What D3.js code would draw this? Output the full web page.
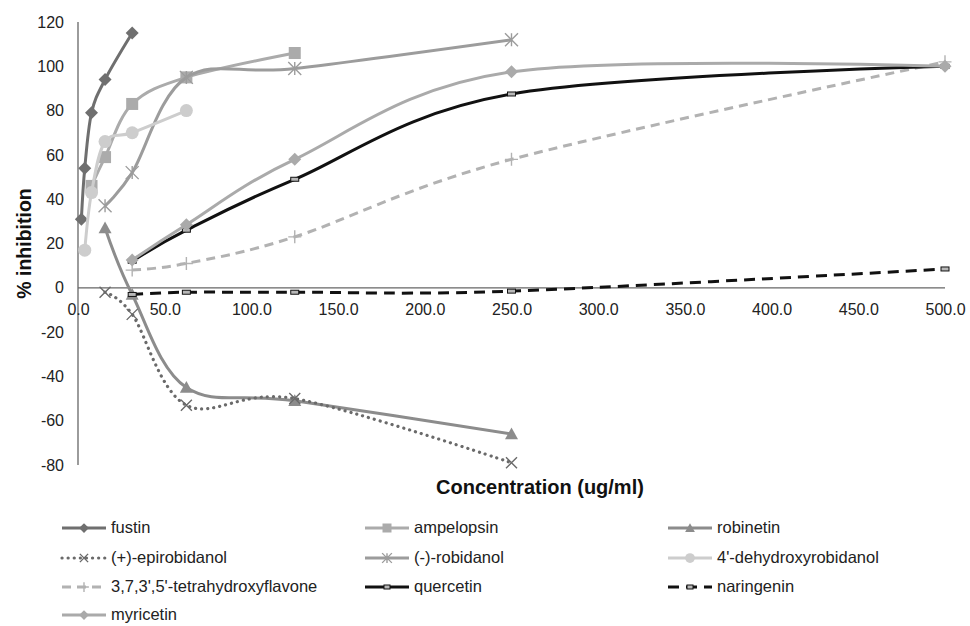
<!DOCTYPE html>
<html>
<head>
<meta charset="utf-8">
<script src="https://cdn.jsdelivr.net/npm/d3@7"></script>
<style>
  html, body { margin: 0; padding: 0; background: #fff; }
  svg { display: block; font-family: "Liberation Sans", Arial, Helvetica, sans-serif; }
</style>
</head>
<body>
<svg id="chart" width="970" height="626"></svg>
<script>
// ---- data ----
const seriesNames = ["fustin", "ampelopsin", "robinetin", "(+)-epirobidanol", "(-)-robidanol",
  "4'-dehydroxyrobidanol", "3,7,3',5'-tetrahydroxyflavone", "quercetin", "naringenin", "myricetin"];

const fustinX = [1.95, 3.9, 7.8, 15.6, 31.25];
const fustinY = [31, 54, 79, 94, 115];
const ampelopsinX = [7.8, 15.6, 31.25, 62.5, 125];
const ampelopsinY = [46, 59, 83, 95, 106];
const robinetinX = [15.6, 31.25, 62.5, 125, 250];
const robinetinY = [27, -3, -45, -51, -66];
const epirobidanolX = [15.6, 31.25, 62.5, 125, 250];
const epirobidanolY = [-2, -12, -53, -50, -79];
const robidanolX = [15.6, 31.25, 62.5, 125, 250];
const robidanolY = [37, 52, 95, 99, 112];
const dehydroxyX = [3.9, 7.8, 15.6, 31.25, 62.5];
const dehydroxyY = [17, 43, 66, 70, 80];
const tetraX = [31.25, 62.5, 125, 250, 500];
const tetraY = [8, 11, 23, 58, 102];
const quercetinX = [31.25, 62.5, 125, 250, 500];
const quercetinY = [12, 26, 49, 87.5, 100];
const naringeninX = [31.25, 62.5, 125, 250, 500];
const naringeninY = [-3, -2, -2, -1.5, 8.5];
const myricetinX = [31.25, 62.5, 125, 250, 500];
const myricetinY = [12.5, 28.5, 58, 97.5, 100];

const xTicks = [0, 50, 100, 150, 200, 250, 300, 350, 400, 450, 500];
const yTicks = [-80, -60, -40, -20, 0, 20, 40, 60, 80, 100, 120];

// ---- styles ----
const styles = [
  { color: "#6f6f6f", dash: null, marker: "diamond", msize: 13 },
  { color: "#ababab", dash: null, marker: "square", msize: 12 },
  { color: "#8c8c8c", dash: null, marker: "triangle", msize: 13 },
  { color: "#6a6a6a", dash: "0.1,6", marker: "x", msize: 11, width: 3.2, cap: "round" },
  { color: "#9c9c9c", dash: null, marker: "star", msize: 13 },
  { color: "#cdcdcd", dash: null, marker: "circle", msize: 13 },
  { color: "#b2b2b2", dash: "9,6", marker: "plus", msize: 13 },
  { color: "#111111", dash: null, marker: "rect", msize: 8 },
  { color: "#111111", dash: "11,7", marker: "rect", msize: 8 },
  { color: "#aaaaaa", dash: null, marker: "diamond", msize: 13 }
];

const xs = [fustinX, ampelopsinX, robinetinX, epirobidanolX, robidanolX, dehydroxyX, tetraX, quercetinX, naringeninX, myricetinX];
const ys = [fustinY, ampelopsinY, robinetinY, epirobidanolY, robidanolY, dehydroxyY, tetraY, quercetinY, naringeninY, myricetinY];
const series = seriesNames.map((n, i) => ({ name: n, pts: xs[i].map((x, j) => ({ x, y: ys[i][j] })), st: styles[i] }));

// ---- layout ----
const svg = d3.select("#chart");
const x = d3.scaleLinear().domain([0, 500]).range([78, 945]);
const y = d3.scaleLinear().domain([-80, 120]).range([465, 22]);

// axes
const axisColor = "#666";
svg.append("line").attr("x1", x(0)).attr("x2", x(0)).attr("y1", y(120)).attr("y2", y(-80))
  .attr("stroke", axisColor).attr("stroke-width", 1.3);
svg.append("line").attr("x1", x(0)).attr("x2", x(500)).attr("y1", y(0)).attr("y2", y(0))
  .attr("stroke", axisColor).attr("stroke-width", 1.3);

const yAxis = d3.axisLeft(y).tickValues(yTicks).tickFormat(d => String(d)).tickSize(0).tickPadding(14);
const gy = svg.append("g").attr("transform", `translate(${x(0)},0)`).call(yAxis);
gy.select(".domain").remove();
gy.selectAll("text").attr("font-size", 16).attr("fill", "#222");

const xAxis = d3.axisBottom(x).tickValues(xTicks).tickFormat(d => d.toFixed(1)).tickSize(0).tickPadding(16);
const gx = svg.append("g").attr("transform", `translate(0,${y(0)})`).call(xAxis);
gx.select(".domain").remove();
gx.selectAll("text").attr("font-size", 16).attr("fill", "#222");

// titles
svg.append("text").attr("x", 540).attr("y", 494).attr("text-anchor", "middle")
  .attr("font-size", 20).attr("font-weight", "bold").attr("fill", "#111").text("Concentration (ug/ml)");
svg.append("text").attr("transform", `translate(31,${(y(120) + y(-80)) / 2}) rotate(-90)`)
  .attr("text-anchor", "middle").attr("font-size", 19.5).attr("font-weight", "bold").attr("fill", "#111")
  .text("% inhibition");

// marker drawing
function drawMarker(g, type, cx, cy, s, color) {
  const h = s / 2;
  if (type === "diamond") {
    g.append("path").attr("d", `M${cx},${cy - h}L${cx + h},${cy}L${cx},${cy + h}L${cx - h},${cy}Z`).attr("fill", color);
  } else if (type === "square") {
    g.append("rect").attr("x", cx - h).attr("y", cy - h).attr("width", s).attr("height", s).attr("fill", color);
  } else if (type === "triangle") {
    g.append("path").attr("d", `M${cx},${cy - h}L${cx + h},${cy + h * 0.8}L${cx - h},${cy + h * 0.8}Z`).attr("fill", color);
  } else if (type === "circle") {
    g.append("circle").attr("cx", cx).attr("cy", cy).attr("r", h).attr("fill", color);
  } else if (type === "x") {
    g.append("path").attr("d", `M${cx - h},${cy - h}L${cx + h},${cy + h}M${cx - h},${cy + h}L${cx + h},${cy - h}`)
      .attr("stroke", color).attr("stroke-width", 1.4).attr("fill", "none");
  } else if (type === "star") {
    g.append("path").attr("d", `M${cx - h},${cy - h}L${cx + h},${cy + h}M${cx - h},${cy + h}L${cx + h},${cy - h}M${cx},${cy - h}L${cx},${cy + h}`)
      .attr("stroke", color).attr("stroke-width", 1.4).attr("fill", "none");
  } else if (type === "plus") {
    g.append("path").attr("d", `M${cx - h},${cy}L${cx + h},${cy}M${cx},${cy - h}L${cx},${cy + h}`)
      .attr("stroke", color).attr("stroke-width", 1.4).attr("fill", "none");
  } else if (type === "rect") {
    g.append("rect").attr("x", cx - h).attr("y", cy - 2).attr("width", s).attr("height", 4)
      .attr("fill", "#b8b8b8").attr("stroke", color).attr("stroke-width", 1);
  }
}

const line = d3.line().x(d => x(d.x)).y(d => y(d.y)).curve(d3.curveCatmullRom.alpha(0));

series.forEach(s => {
  const g = svg.append("g");
  g.append("path").datum(s.pts).attr("d", line).attr("fill", "none")
    .attr("stroke", s.st.color).attr("stroke-width", s.st.width || 3)
    .attr("stroke-dasharray", s.st.dash).attr("stroke-linecap", s.st.cap || "butt")
    .attr("stroke-linejoin", "round");
  s.pts.forEach(p => drawMarker(g, s.st.marker, x(p.x), y(p.y), s.st.msize, s.st.color));
});

// legend
const colX = [62, 365, 668];
const rowY = [528, 558, 587, 615];
series.forEach((s, i) => {
  const cx = colX[i % 3], cy = rowY[Math.floor(i / 3)];
  const g = svg.append("g");
  g.append("line").attr("x1", cx).attr("x2", cx + 44).attr("y1", cy).attr("y2", cy)
    .attr("stroke", s.st.color).attr("stroke-width", s.st.width || 3)
    .attr("stroke-dasharray", s.st.dash).attr("stroke-linecap", s.st.cap || "butt");
  drawMarker(g, s.st.marker, cx + 22, cy, s.st.msize * 0.75, s.st.color);
  g.append("text").attr("x", cx + 49).attr("y", cy).attr("dy", "0.33em")
    .attr("font-size", 16.5).attr("fill", "#222").text(s.name);
});
</script>
</body>
</html>
